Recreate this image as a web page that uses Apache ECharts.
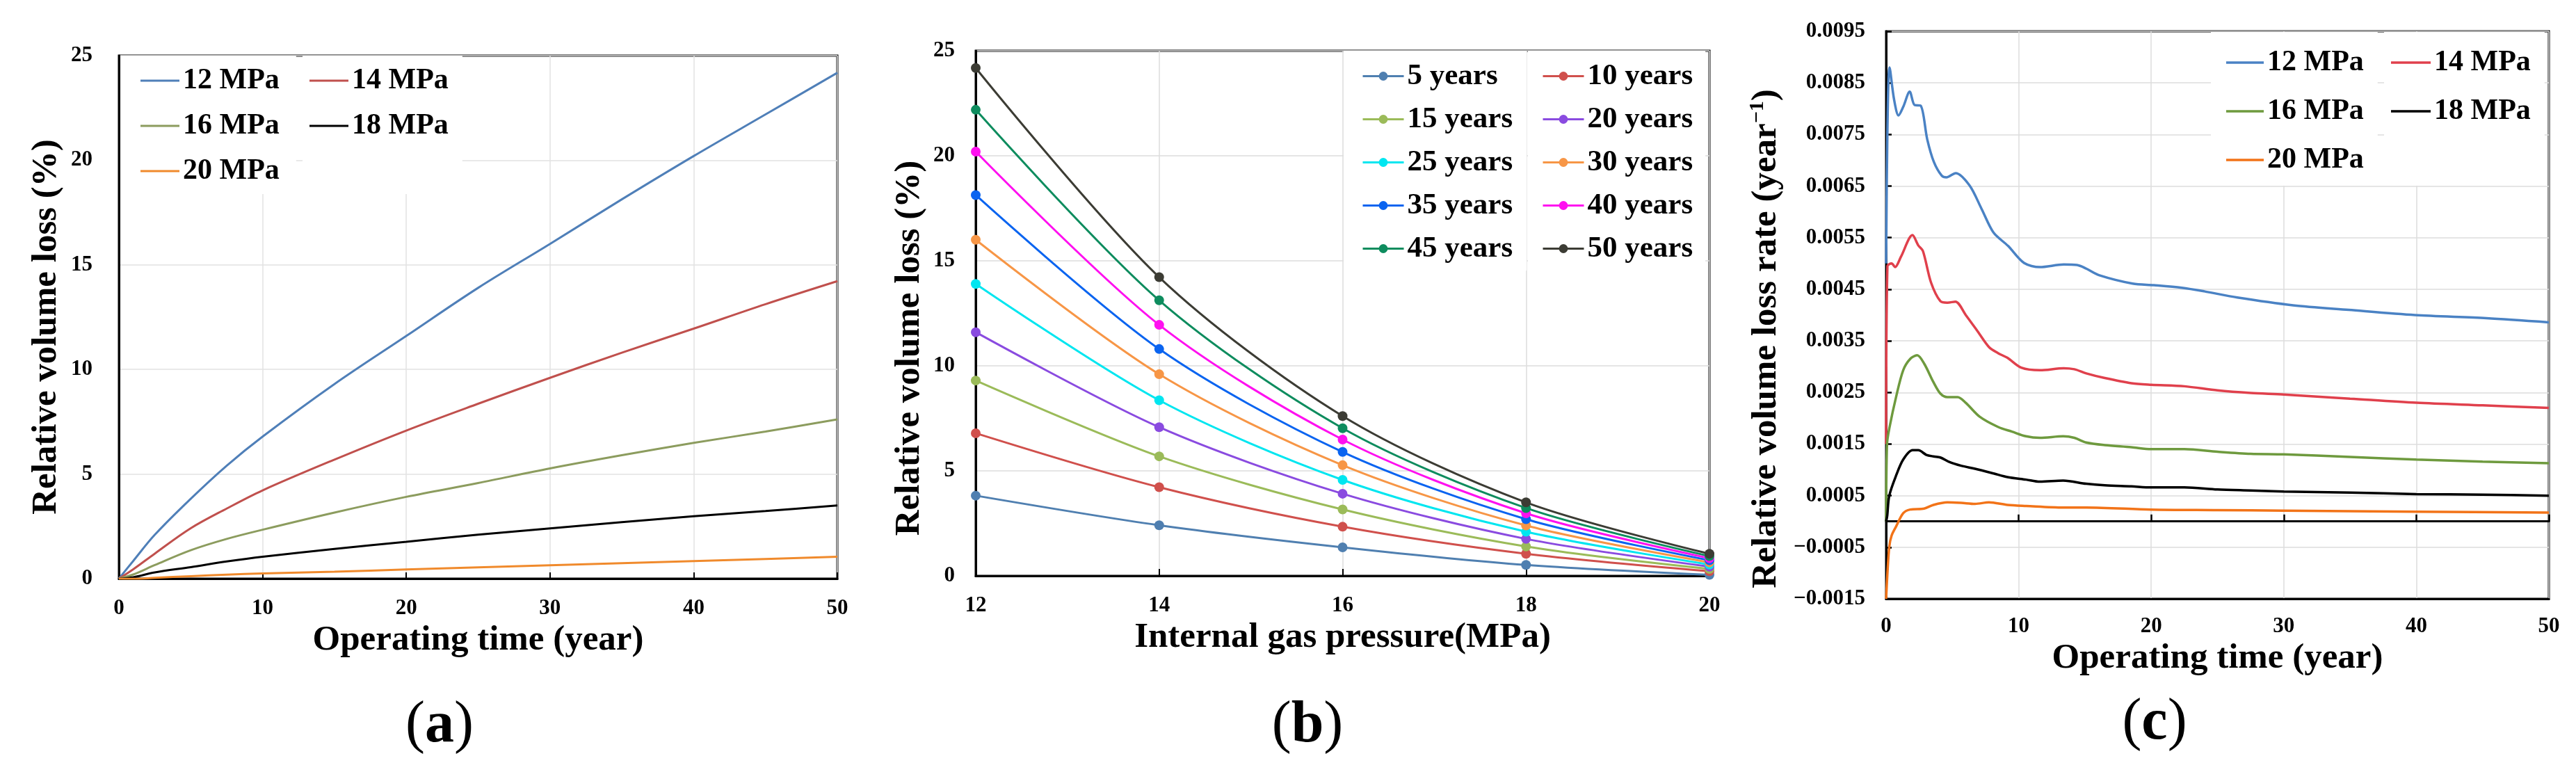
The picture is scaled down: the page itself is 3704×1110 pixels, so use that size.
<!DOCTYPE html>
<html><head><meta charset="utf-8">
<script src="https://cdn.jsdelivr.net/npm/echarts@6/dist/echarts.min.js"></script>
<style>html,body{margin:0;padding:0;background:#fff}#c{width:3704px;height:1110px}</style>
</head><body><div id="c"></div>
<script>
// ---------- Panel (a): relative volume loss vs operating time ----------
const pressureNames = ['12 MPa', '14 MPa', '16 MPa', '18 MPa', '20 MPa'];
const timeA   = [0, 1, 2.5, 5, 7.5, 10, 15, 20, 25, 30, 35, 40, 45, 50];
const lossA12 = [0, 0.85, 2.1, 3.82, 5.4, 6.79, 9.3, 11.6, 13.9, 16.0, 18.13, 20.2, 22.19, 24.18];
const lossA14 = [0, 0.45, 1.2, 2.41, 3.35, 4.22, 5.69, 7.08, 8.36, 9.6, 10.8, 11.95, 13.12, 14.22];
const lossA16 = [0, 0.2, 0.65, 1.36, 1.9, 2.34, 3.16, 3.91, 4.57, 5.27, 5.9, 6.49, 7.03, 7.61];
const lossA18 = [0, 0.07, 0.3, 0.55, 0.82, 1.05, 1.42, 1.76, 2.1, 2.4, 2.7, 2.98, 3.23, 3.5];
const lossA20 = [0, -0.01, 0.04, 0.12, 0.19, 0.25, 0.33, 0.44, 0.54, 0.64, 0.74, 0.84, 0.94, 1.05];

// ---------- Panel (b): relative volume loss vs internal gas pressure ----------
const pressures = [12, 14, 16, 18, 20];
const yearNames = ['5 years','10 years','15 years','20 years','25 years','30 years','35 years','40 years','45 years','50 years'];
const lossB5  = [3.82, 2.41, 1.36, 0.52, 0.05];
const lossB10 = [6.79, 4.22, 2.34, 1.05, 0.22];
const lossB15 = [9.30, 5.69, 3.16, 1.40, 0.33];
const lossB20 = [11.60, 7.08, 3.91, 1.76, 0.44];
const lossB25 = [13.90, 8.36, 4.57, 2.10, 0.54];
const lossB30 = [16.00, 9.60, 5.27, 2.40, 0.64];
const lossB35 = [18.13, 10.80, 5.90, 2.70, 0.74];
const lossB40 = [20.20, 11.95, 6.49, 2.98, 0.84];
const lossB45 = [22.19, 13.12, 7.03, 3.23, 0.94];
const lossB50 = [24.18, 14.22, 7.61, 3.50, 1.05];

// ---------- Panel (c): relative volume loss rate (x 1e-3 per year) ----------
const timeC12 = [0, 0.1, 0.26, 0.6, 0.94, 1.3, 1.78, 2.15, 2.6, 3.1, 3.6, 4.2, 4.55, 5.25, 6.3, 7.2, 8.1, 9.2, 10.4, 11.6, 13.4, 14.4, 15.1, 16.1, 18.6, 20.2, 22.3, 24, 26.5, 30.7, 34.9, 39.9, 45.3, 50];
const rateC12 = [5.0, 7.6, 8.8, 8.18, 7.87, 8.04, 8.33, 8.07, 8.06, 7.41, 6.97, 6.7, 6.67, 6.75, 6.51, 6.06, 5.6, 5.34, 5.01, 4.93, 4.98, 4.97, 4.9, 4.77, 4.61, 4.58, 4.53, 4.46, 4.34, 4.19, 4.10, 4.0, 3.94, 3.86];
const timeC14 = [0, 0.1, 0.42, 0.68, 1.12, 1.99, 2.43, 2.78, 3.39, 4.09, 4.62, 5.23, 6.01, 6.89, 7.76, 8.46, 9.16, 10.2, 11.6, 13.4, 14.2, 15.1, 16.5, 18.5, 20, 22.5, 25, 27.5, 30, 35, 40, 45, 50];
const rateC14 = [1.5, 4.95, 5.0, 4.93, 5.13, 5.55, 5.35, 5.24, 4.63, 4.27, 4.24, 4.26, 4.0, 3.69, 3.38, 3.26, 3.17, 2.98, 2.93, 2.97, 2.95, 2.87, 2.78, 2.68, 2.65, 2.62, 2.54, 2.49, 2.46, 2.38, 2.30, 2.25, 2.20];
const timeC16 = [0, 0.07, 0.24, 0.77, 1.29, 1.82, 2.34, 2.87, 3.57, 4.09, 4.62, 5.4, 6.01, 7.06, 8.46, 9.5, 10.56, 11.6, 13.36, 14.2, 15.1, 16.5, 18.5, 20, 22.5, 25, 27.5, 30, 35, 40, 45, 50];
const rateC16 = [0, 1.5, 1.8, 2.43, 2.93, 3.15, 3.22, 3.06, 2.7, 2.48, 2.41, 2.41, 2.3, 2.03, 1.83, 1.74, 1.65, 1.62, 1.65, 1.62, 1.53, 1.48, 1.44, 1.4, 1.4, 1.35, 1.31, 1.3, 1.25, 1.2, 1.16, 1.13];
const timeC18 = [0, 0.08, 0.24, 0.77, 1.29, 1.99, 2.43, 3.04, 3.57, 4.09, 4.79, 5.66, 6.71, 8.11, 9.16, 10.56, 11.6, 13.36, 15.1, 16.5, 18.5, 20, 22.5, 25, 27.5, 30, 35, 40, 45, 50];
const rateC18 = [0, 0.1, 0.5, 0.9, 1.2, 1.38, 1.38, 1.29, 1.26, 1.24, 1.15, 1.08, 1.02, 0.93, 0.86, 0.81, 0.77, 0.79, 0.73, 0.7, 0.68, 0.66, 0.66, 0.62, 0.6, 0.58, 0.56, 0.53, 0.52, 0.5];
const timeC20 = [0, 0.1, 0.24, 0.42, 0.77, 1.29, 1.82, 2.87, 3.57, 4.62, 5.66, 6.71, 7.76, 9.16, 10.56, 13.36, 15.1, 20, 25, 30, 40, 50];
const rateC20 = [-1.5, -1.0, -0.49, -0.27, -0.09, 0.16, 0.23, 0.25, 0.32, 0.37, 0.36, 0.34, 0.37, 0.32, 0.3, 0.27, 0.27, 0.23, 0.22, 0.21, 0.19, 0.17];

// ---------- styling ----------
const FONT = "'Liberation Serif', 'Times New Roman', serif";
const colorsA = ['#4f7fb8', '#c0504d', '#8c9c5e', '#000000', '#f08a2c'];
const colorsB = ['#4f7fb0', '#d0504c', '#9bbb59', '#8a4be0', '#00e6f0', '#f79646', '#0a64f0', '#ff10f0', '#0e8c5e', '#3c3c34'];
const colorsC = ['#4a82c4', '#e0404c', '#6e9a3e', '#000000', '#f27318'];

const lossA = [lossA12, lossA14, lossA16, lossA18, lossA20];
const lossB = [lossB5, lossB10, lossB15, lossB20, lossB25, lossB30, lossB35, lossB40, lossB45, lossB50];
const timeC = [timeC12, timeC14, timeC16, timeC18, timeC20];
const rateC = [rateC12, rateC14, rateC16, rateC18, rateC20];

const tickLabel = (m) => ({ fontFamily: FONT, fontSize: 31, fontWeight: 'bold', color: '#000', margin: m });
const nameStyle = (pr) => ({ fontFamily: FONT, fontSize: 51, fontWeight: 'bold', color: '#000', padding: pr || 0 });
const split = (c) => ({ show: true, lineStyle: { color: c, width: 1.5 } });
const frameLine = { show: true, onZero: false, lineStyle: { color: '#000', width: 3 } };

const grids = [
  { left: 171, top: 80, width: 1033, height: 752 },
  { left: 1403, top: 73, width: 1055, height: 755 },
  { left: 2712, top: 45, width: 953, height: 816 }
].map(g => Object.assign(g, { show: true, borderColor: '#000', borderWidth: 3, backgroundColor: 'transparent' }));

const xAxes = [
  { gridIndex: 0, type: 'value', min: 0, max: 50, interval: 10, axisLine: frameLine,
    axisTick: { show: true, inside: true, length: 9, lineStyle: { color: '#000', width: 2 } },
    axisLabel: tickLabel(27), splitLine: split('#e2e2e2'),
    name: 'Operating time (year)', nameLocation: 'middle', nameGap: 49, nameTextStyle: nameStyle() },
  { gridIndex: 1, type: 'value', min: 12, max: 20, interval: 2, axisLine: frameLine,
    axisTick: { show: true, inside: true, length: 10, lineStyle: { color: '#000', width: 2 } },
    axisLabel: tickLabel(27), splitLine: split('#dcdcdc'),
    name: 'Internal gas pressure(MPa)', nameLocation: 'middle', nameGap: 53, nameTextStyle: nameStyle() },
  { gridIndex: 2, type: 'value', min: 0, max: 50, interval: 10, axisLine: frameLine,
    axisTick: { show: false },
    axisLabel: tickLabel(24), splitLine: split('#dcdcdc'),
    name: 'Operating time (year)', nameLocation: 'middle', nameGap: 58, nameTextStyle: nameStyle() },
  // zero line of panel (c)
  { gridIndex: 2, type: 'value', min: 0, max: 50, interval: 10, position: 'bottom',
    axisLine: { show: true, onZero: true, lineStyle: { color: '#000', width: 3 } },
    axisTick: { show: true, inside: true, length: 10, lineStyle: { color: '#000', width: 2.5 } },
    axisLabel: { show: false }, splitLine: { show: false } }
];

const yAxes = [
  { gridIndex: 0, type: 'value', min: 0, max: 25, interval: 5, axisLine: frameLine,
    axisTick: { show: false }, axisLabel: tickLabel(38), splitLine: split('#e2e2e2'),
    name: 'Relative volume loss (%)', nameLocation: 'middle', nameGap: 79, nameTextStyle: nameStyle([0, 28, 0, 0]) },
  { gridIndex: 1, type: 'value', min: 0, max: 25, interval: 5, axisLine: frameLine,
    axisTick: { show: false }, axisLabel: tickLabel(30), splitLine: split('#dcdcdc'),
    name: 'Relative volume loss (%)', nameLocation: 'middle', nameGap: 70, nameTextStyle: nameStyle([0, 100, 0, 0]) },
  { gridIndex: 2, type: 'value', min: -0.0015, max: 0.0095, interval: 0.001, axisLine: frameLine,
    axisTick: { show: true, inside: true, length: 8, lineStyle: { color: '#000', width: 2.5 } },
    axisLabel: Object.assign(tickLabel(30), { formatter: v => (v < -1e-9 ? '\u2212' : '') + Math.abs(v).toFixed(4) }),
    splitLine: split('#dcdcdc'),
    name: '{a|Relative volume loss rate (year}{s|\u22121}{a|)}', nameLocation: 'middle', nameGap: 144,
    nameTextStyle: Object.assign(nameStyle([0, 68, 0, 0]), {
      rich: {
        a: { fontFamily: FONT, fontSize: 51, fontWeight: 'bold', color: '#000', lineHeight: 56 },
        s: { fontFamily: FONT, fontSize: 30, fontWeight: 'bold', color: '#000', verticalAlign: 'top', lineHeight: 56, padding: [0, 0, 22, 0] }
      }
    }) }
];

const series = [];
pressureNames.forEach((n, i) => series.push({
  name: n, type: 'line', xAxisIndex: 0, yAxisIndex: 0, symbol: 'none', smooth: 0.35,
  lineStyle: { width: 3, color: colorsA[i] }, itemStyle: { color: colorsA[i] },
  data: timeA.map((t, k) => [t, lossA[i][k]]), z: 2 + i
}));
yearNames.forEach((n, i) => series.push({
  name: n, type: 'line', xAxisIndex: 1, yAxisIndex: 1, symbol: 'circle', symbolSize: 14, smooth: 0.3,
  lineStyle: { width: 3, color: colorsB[i] }, itemStyle: { color: colorsB[i] },
  data: pressures.map((p, k) => [p, lossB[i][k]]), z: 2 + i
}));
pressureNames.forEach((n, i) => series.push({
  name: n, type: 'line', xAxisIndex: 2, yAxisIndex: 2, symbol: 'none', smooth: 0.3,
  lineStyle: { width: 3.5, color: colorsC[i] }, itemStyle: { color: colorsC[i] },
  data: timeC[i].map((t, k) => [t, rateC[i][k] / 1000]), z: 2 + i
}));

function legendBlock(names, colors, idx, opts) {
  return Object.assign({
    orient: 'vertical', backgroundColor: '#fff', selectedMode: false,
    itemWidth: opts.iw, itemHeight: opts.ih, itemGap: opts.gap,
    textStyle: { fontFamily: FONT, fontSize: opts.fs, fontWeight: 'bold', color: '#000', lineHeight: opts.lh },
    data: idx.map(i => {
      const d = { name: names[i], itemStyle: { color: colors[i] }, lineStyle: { color: colors[i], width: 3 } };
      if (opts.icon) d.icon = opts.icon;
      return d;
    })
  }, opts.pos);
}

const legends = [
  legendBlock(pressureNames, colorsA, [0, 2, 4], { iw: 56, ih: 3, icon: 'rect', gap: 23, fs: 42, lh: 42, pos: { left: 173, top: 80, padding: [15, 24, 12, 29] } }),
  legendBlock(pressureNames, colorsA, [1, 3], { iw: 56, ih: 3, icon: 'rect', gap: 23, fs: 42, lh: 42, pos: { left: 435, top: 80, padding: [15, 20, 77, 10] } }),
  legendBlock(yearNames, colorsB, [0, 2, 4, 6, 8], { iw: 59, ih: 16, gap: 19, fs: 43, lh: 40, pos: { left: 1932, top: 73, padding: [15, 20, 10, 26] } }),
  legendBlock(yearNames, colorsB, [1, 3, 5, 7, 9], { iw: 59, ih: 16, gap: 19, fs: 43, lh: 40, pos: { left: 2197, top: 73, padding: [15, 18, 10, 20] } }),
  legendBlock(pressureNames, colorsC, [0, 2, 4], { iw: 54, ih: 3.5, icon: 'rect', gap: 28, fs: 42, lh: 42, pos: { left: 3179, top: 46, padding: [23, 20, 16, 22] } }),
  legendBlock(pressureNames, colorsC, [1, 3], { iw: 57, ih: 3.5, icon: 'rect', gap: 28, fs: 42, lh: 42, pos: { left: 3428, top: 46, padding: [23, 20, 86, 10] } })
];

const subLabel = (letter, x, y) => ({
  type: 'text', x: x, y: y, z: 10,
  style: {
    text: '{p|(}{l|' + letter + '}{p|)}', align: 'center', verticalAlign: 'middle',
    rich: {
      p: { fontFamily: FONT, fontSize: 84, fontWeight: 'normal', fill: '#000' },
      l: { fontFamily: FONT, fontSize: 84, fontWeight: 'bold', fill: '#000' }
    }
  }
});

const chart = echarts.init(document.getElementById('c'), null, { renderer: 'canvas', width: 3704, height: 1110 });
chart.setOption({
  backgroundColor: '#fff',
  animation: false,
  grid: grids,
  xAxis: xAxes,
  yAxis: yAxes,
  legend: legends,
  series: series,
  graphic: [subLabel('a', 632, 1044), subLabel('b', 1880, 1044), subLabel('c', 3098, 1040)]
});
</script></body></html>
